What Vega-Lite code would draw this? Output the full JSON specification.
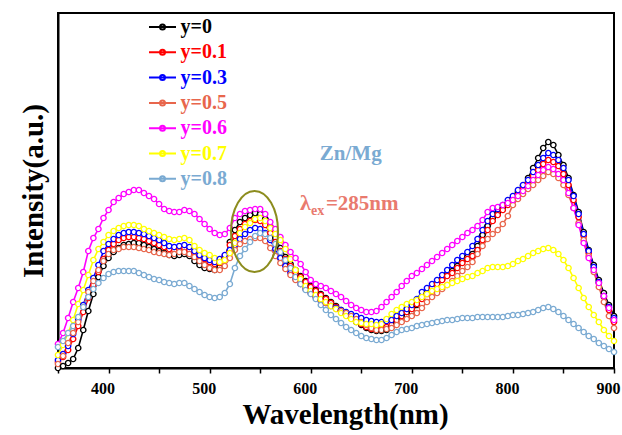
{
"$schema": "https://vega.github.io/schema/vega-lite/v6.json",
"width": 556, "height": 355,
"autosize": {"type": "none"},
"padding": {"left": 58, "top": 13, "right": 8, "bottom": 67},
"background": "white",
"config": {"view": {"stroke": "black", "strokeWidth": 2}, "font": "Liberation Serif"},
"encoding": {
"x": {"field": "w", "type": "quantitative", "scale": {"domain": [350, 900], "nice": false, "zero": false},
"axis": {"values": [350,400,450,500,550,600,650,700,750,800,850,900],
"labelExpr": "datum.value % 100 == 0 && datum.value > 350 ? datum.label : ''",
"grid": false, "tickSize": 5, "tickWidth": 1.5, "tickColor": "black", "domainColor": "black", "domainWidth": 2,
"labelFont": "Liberation Serif", "labelFontWeight": "bold", "labelFontSize": 16, "labelColor": "black",
"labelBaseline": "alphabetic", "labelPadding": 20, "labelOffset": -6, "labelFlush": false, "labelOverlap": false,
"title": "Wavelength(nm)", "titleFont": "Liberation Serif", "titleFontWeight": "bold", "titleFontSize": 29, "titleColor": "black",
"titleBaseline": "alphabetic", "titleY": 55, "titleX": 287, "titleAlign": "center"}},
"y": {"field": "val", "type": "quantitative", "scale": {"domain": [0, 355], "nice": false, "zero": false},
"axis": {"labels": false, "ticks": false, "grid": false, "domainColor": "black", "domainWidth": 2,
"title": "Intensity(a.u.)", "titleFont": "Liberation Serif", "titleFontWeight": "bold", "titleFontSize": 29, "titleColor": "black",
"titleBaseline": "alphabetic", "titleAngle": -90, "titleAlign": "center", "titleX": -16, "titleY": 177.5}}
},
"layer": [
{
"data": {"values": [
{"w":350,"s0":0,"s1":6,"s3":8,"s5":4,"s6":24,"s7":13,"s8":21},
{"w":355,"s0":2,"s1":11,"s3":14,"s5":12,"s6":35,"s7":23,"s8":27},
{"w":360,"s0":5,"s1":18,"s3":22,"s5":25,"s6":50,"s7":35,"s8":35},
{"w":365,"s0":9,"s1":29,"s3":34,"s5":35,"s6":66,"s7":48,"s8":42},
{"w":370,"s0":20,"s1":42,"s3":48,"s5":46,"s6":80,"s7":64,"s8":51},
{"w":375,"s0":38,"s1":56,"s3":63,"s5":61,"s6":96,"s7":78,"s8":61},
{"w":380,"s0":57,"s1":70,"s3":78,"s5":76,"s6":117,"s7":93,"s8":71},
{"w":385,"s0":74,"s1":83,"s3":90,"s5":87,"s6":130,"s7":108,"s8":79},
{"w":390,"s0":91,"s1":96,"s3":103,"s5":98,"s6":139,"s7":119,"s8":85},
{"w":395,"s0":102,"s1":109,"s3":117,"s5":107,"s6":150,"s7":126,"s8":90},
{"w":400,"s0":110,"s1":118,"s3":124,"s5":114,"s6":158,"s7":133,"s8":94},
{"w":405,"s0":116,"s1":124,"s3":129,"s5":118,"s6":166,"s7":137,"s8":96},
{"w":410,"s0":120,"s1":128,"s3":133,"s5":119,"s6":170,"s7":140,"s8":97},
{"w":415,"s0":123,"s1":130,"s3":135,"s5":121,"s6":174,"s7":142,"s8":97},
{"w":420,"s0":124,"s1":131,"s3":136,"s5":121,"s6":176,"s7":143,"s8":97},
{"w":425,"s0":125,"s1":131,"s3":136,"s5":121,"s6":178,"s7":143,"s8":97},
{"w":430,"s0":125,"s1":130,"s3":135,"s5":120,"s6":178,"s7":142,"s8":95},
{"w":435,"s0":123,"s1":129,"s3":134,"s5":119,"s6":175,"s7":139,"s8":93},
{"w":440,"s0":121,"s1":127,"s3":132,"s5":118,"s6":172,"s7":137,"s8":91},
{"w":445,"s0":119,"s1":125,"s3":130,"s5":116,"s6":169,"s7":135,"s8":89},
{"w":450,"s0":117,"s1":123,"s3":128,"s5":115,"s6":164,"s7":133,"s8":88},
{"w":455,"s0":115,"s1":121,"s3":125,"s5":114,"s6":159,"s7":131,"s8":86},
{"w":460,"s0":113,"s1":119,"s3":122,"s5":113,"s6":157,"s7":129,"s8":85},
{"w":465,"s0":112,"s1":118,"s3":121,"s5":114,"s6":156,"s7":128,"s8":84},
{"w":470,"s0":113,"s1":119,"s3":122,"s5":116,"s6":156,"s7":129,"s8":85},
{"w":475,"s0":114,"s1":120,"s3":123,"s5":116,"s6":158,"s7":130,"s8":85},
{"w":480,"s0":112,"s1":118,"s3":121,"s5":114,"s6":157,"s7":128,"s8":82},
{"w":485,"s0":107,"s1":115,"s3":117,"s5":111,"s6":154,"s7":122,"s8":79},
{"w":490,"s0":103,"s1":112,"s3":113,"s5":107,"s6":149,"s7":118,"s8":76},
{"w":495,"s0":100,"s1":109,"s3":110,"s5":103,"s6":144,"s7":115,"s8":73},
{"w":500,"s0":99,"s1":106,"s3":108,"s5":100,"s6":139,"s7":113,"s8":71},
{"w":505,"s0":98,"s1":104,"s3":106,"s5":98,"s6":135,"s7":110,"s8":70},
{"w":510,"s0":101,"s1":105,"s3":109,"s5":98,"s6":133,"s7":106,"s8":71},
{"w":515,"s0":110,"s1":112,"s3":113,"s5":102,"s6":134,"s7":108,"s8":75},
{"w":520,"s0":126,"s1":123,"s3":118,"s5":110,"s6":140,"s7":115,"s8":84},
{"w":525,"s0":138,"s1":132,"s3":123,"s5":118,"s6":150,"s7":125,"s8":100},
{"w":530,"s0":146,"s1":139,"s3":129,"s5":124,"s6":154,"s7":135,"s8":112},
{"w":535,"s0":150,"s1":144,"s3":134,"s5":127,"s6":157,"s7":141,"s8":119},
{"w":540,"s0":153,"s1":147,"s3":138,"s5":129,"s6":158,"s7":145,"s8":126},
{"w":545,"s0":155,"s1":148,"s3":140,"s5":130,"s6":159,"s7":149,"s8":132},
{"w":550,"s0":154,"s1":147,"s3":139,"s5":130,"s6":159,"s7":150,"s8":135},
{"w":555,"s0":149,"s1":143,"s3":135,"s5":127,"s6":154,"s7":147,"s8":134},
{"w":560,"s0":140,"s1":135,"s3":128,"s5":120,"s6":146,"s7":140,"s8":130},
{"w":565,"s0":130,"s1":126,"s3":119,"s5":112,"s6":139,"s7":134,"s8":124},
{"w":570,"s0":120,"s1":117,"s3":110,"s5":105,"s6":131,"s7":128,"s8":116},
{"w":575,"s0":111,"s1":109,"s3":102,"s5":99,"s6":123,"s7":119,"s8":108},
{"w":580,"s0":104,"s1":102,"s3":95,"s5":93,"s6":116,"s7":109,"s8":100},
{"w":585,"s0":98,"s1":96,"s3":89,"s5":88,"s6":110,"s7":98,"s8":91},
{"w":590,"s0":92,"s1":91,"s3":84,"s5":84,"s6":104,"s7":89,"s8":84},
{"w":595,"s0":87,"s1":86,"s3":79,"s5":79,"s6":96,"s7":82,"s8":78},
{"w":600,"s0":82,"s1":81,"s3":75,"s5":75,"s6":88,"s7":77,"s8":74},
{"w":605,"s0":78,"s1":77,"s3":71,"s5":71,"s6":84,"s7":73,"s8":69},
{"w":610,"s0":74,"s1":73,"s3":68,"s5":68,"s6":82,"s7":69,"s8":63},
{"w":615,"s0":70,"s1":69,"s3":65,"s5":65,"s6":80,"s7":66,"s8":58},
{"w":620,"s0":66,"s1":65,"s3":62,"s5":62,"s6":77,"s7":62,"s8":53},
{"w":625,"s0":62,"s1":61,"s3":60,"s5":59,"s6":74,"s7":59,"s8":49},
{"w":630,"s0":58,"s1":57,"s3":58,"s5":57,"s6":71,"s7":55,"s8":45},
{"w":635,"s0":54,"s1":54,"s3":56,"s5":55,"s6":67,"s7":52,"s8":41},
{"w":640,"s0":50,"s1":50,"s3":54,"s5":52,"s6":63,"s7":49,"s8":38},
{"w":645,"s0":46,"s1":47,"s3":52,"s5":49,"s6":60,"s7":46,"s8":35},
{"w":650,"s0":43,"s1":44,"s3":50,"s5":46,"s6":58,"s7":45,"s8":32},
{"w":655,"s0":40,"s1":41,"s3":48,"s5":43,"s6":56,"s7":44,"s8":30},
{"w":660,"s0":38,"s1":39,"s3":47,"s5":40,"s6":56,"s7":44,"s8":29},
{"w":665,"s0":37,"s1":38,"s3":46,"s5":38,"s6":57,"s7":43,"s8":28},
{"w":670,"s0":37,"s1":39,"s3":46,"s5":38,"s6":61,"s7":44,"s8":28},
{"w":675,"s0":38,"s1":41,"s3":47,"s5":39,"s6":66,"s7":49,"s8":30},
{"w":680,"s0":41,"s1":43,"s3":48,"s5":40,"s6":71,"s7":54,"s8":33},
{"w":685,"s0":45,"s1":48,"s3":52,"s5":43,"s6":76,"s7":58,"s8":36},
{"w":690,"s0":49,"s1":52,"s3":55,"s5":46,"s6":82,"s7":61,"s8":38},
{"w":695,"s0":52,"s1":56,"s3":59,"s5":49,"s6":87,"s7":64,"s8":39},
{"w":700,"s0":56,"s1":59,"s3":63,"s5":52,"s6":92,"s7":66,"s8":40},
{"w":705,"s0":63,"s1":64,"s3":69,"s5":55,"s6":95,"s7":68,"s8":42},
{"w":710,"s0":70,"s1":69,"s3":76,"s5":60,"s6":99,"s7":71,"s8":43},
{"w":715,"s0":75,"s1":74,"s3":80,"s5":66,"s6":103,"s7":74,"s8":44},
{"w":720,"s0":80,"s1":80,"s3":84,"s5":71,"s6":107,"s7":77,"s8":45},
{"w":725,"s0":85,"s1":84,"s3":88,"s5":75,"s6":111,"s7":79,"s8":46},
{"w":730,"s0":89,"s1":88,"s3":93,"s5":79,"s6":115,"s7":81,"s8":47},
{"w":735,"s0":93,"s1":92,"s3":98,"s5":83,"s6":119,"s7":83,"s8":48},
{"w":740,"s0":97,"s1":95,"s3":103,"s5":87,"s6":123,"s7":85,"s8":48},
{"w":745,"s0":102,"s1":100,"s3":108,"s5":92,"s6":127,"s7":87,"s8":49},
{"w":750,"s0":107,"s1":105,"s3":112,"s5":97,"s6":131,"s7":89,"s8":50},
{"w":755,"s0":111,"s1":109,"s3":116,"s5":101,"s6":135,"s7":91,"s8":50},
{"w":760,"s0":114,"s1":112,"s3":122,"s5":106,"s6":138,"s7":92,"s8":50},
{"w":765,"s0":122,"s1":118,"s3":129,"s5":114,"s6":142,"s7":95,"s8":51},
{"w":770,"s0":133,"s1":128,"s3":138,"s5":122,"s6":148,"s7":97,"s8":51},
{"w":775,"s0":142,"s1":138,"s3":147,"s5":129,"s6":156,"s7":100,"s8":51},
{"w":780,"s0":150,"s1":147,"s3":154,"s5":134,"s6":160,"s7":101,"s8":51},
{"w":785,"s0":155,"s1":153,"s3":159,"s5":138,"s6":161,"s7":101,"s8":51},
{"w":790,"s0":160,"s1":158,"s3":163,"s5":144,"s6":163,"s7":101,"s8":51},
{"w":795,"s0":165,"s1":163,"s3":168,"s5":152,"s6":165,"s7":102,"s8":52},
{"w":800,"s0":170,"s1":168,"s3":172,"s5":163,"s6":168,"s7":104,"s8":53},
{"w":805,"s0":176,"s1":173,"s3":178,"s5":169,"s6":172,"s7":107,"s8":53},
{"w":810,"s0":182,"s1":179,"s3":183,"s5":174,"s6":177,"s7":109,"s8":54},
{"w":815,"s0":190,"s1":185,"s3":188,"s5":179,"s6":182,"s7":112,"s8":55},
{"w":820,"s0":200,"s1":192,"s3":196,"s5":183,"s6":188,"s7":115,"s8":56},
{"w":825,"s0":210,"s1":198,"s3":203,"s5":188,"s6":193,"s7":117,"s8":58},
{"w":830,"s0":220,"s1":204,"s3":210,"s5":192,"s6":198,"s7":119,"s8":60},
{"w":835,"s0":226,"s1":208,"s3":215,"s5":196,"s6":201,"s7":120,"s8":61},
{"w":840,"s0":223,"s1":206,"s3":213,"s5":194,"s6":199,"s7":118,"s8":59},
{"w":845,"s0":213,"s1":202,"s3":208,"s5":190,"s6":194,"s7":114,"s8":56},
{"w":850,"s0":203,"s1":194,"s3":200,"s5":183,"s6":188,"s7":108,"s8":52},
{"w":855,"s0":190,"s1":183,"s3":188,"s5":173,"s6":175,"s7":100,"s8":48},
{"w":860,"s0":173,"s1":168,"s3":172,"s5":160,"s6":160,"s7":90,"s8":44},
{"w":865,"s0":156,"s1":151,"s3":154,"s5":145,"s6":143,"s7":80,"s8":40},
{"w":870,"s0":136,"s1":132,"s3":134,"s5":128,"s6":125,"s7":70,"s8":36},
{"w":875,"s0":118,"s1":115,"s3":117,"s5":112,"s6":110,"s7":61,"s8":32},
{"w":880,"s0":103,"s1":100,"s3":101,"s5":96,"s6":98,"s7":53,"s8":29},
{"w":885,"s0":88,"s1":85,"s3":86,"s5":81,"s6":85,"s7":46,"s8":25},
{"w":890,"s0":75,"s1":71,"s3":72,"s5":66,"s6":72,"s7":38,"s8":22},
{"w":895,"s0":63,"s1":58,"s3":61,"s5":52,"s6":60,"s7":32,"s8":19},
{"w":900,"s0":52,"s1":46,"s3":50,"s5":40,"s6":48,"s7":27,"s8":16}
]},
"transform": [{"fold": ["s0","s1","s3","s5","s6","s7","s8"], "as": ["series","val"]}],
"layer": [
{"mark": {"type": "line", "strokeWidth": 1.6},
"encoding": {"color": {"field": "series", "type": "nominal",
"scale": {"domain": ["s0","s1","s3","s5","s6","s7","s8"], "range": ["#000000","#ff0000","#0000ff","#e8664c","#ff00ff","#ffff00","#7aaad2"]},
"legend": {"title": null, "orient": "none", "legendX": 93.5, "legendY": 3, "direction": "vertical",
"symbolType": "M-1.35,0L1.35,0M-0.25,0A0.25,0.25 0 1,0 0.25,0A0.25,0.25 0 1,0 -0.25,0",
"symbolSize": 400, "symbolStrokeWidth": 2, "symbolFillColor": "white",
"labelFont": "Liberation Serif", "labelFontWeight": "bold", "labelFontSize": 20, "labelOffset": 7,
"rowPadding": 4.3, "padding": 0,
"labelExpr": "datum.value=='s0'?'y=0':datum.value=='s1'?'y=0.1':datum.value=='s3'?'y=0.3':datum.value=='s5'?'y=0.5':datum.value=='s6'?'y=0.6':datum.value=='s7'?'y=0.7':'y=0.8'",
"encode": {"labels": {"update": {"fill": {"scale": "color", "field": "value"}}}}}}}},
{"mark": {"type": "point", "filled": true, "fill": "white", "size": 28, "strokeWidth": 1.4, "opacity": 1},
"encoding": {"stroke": {"field": "series", "type": "nominal",
"scale": {"domain": ["s0","s1","s3","s5","s6","s7","s8"], "range": ["#000000","#ff0000","#0000ff","#e8664c","#ff00ff","#ffff00","#7aaad2"]},
"legend": null}}}
]
},
{
"data": {"values": [{"w": 544.4, "val": 136.5}]},
"mark": {"type": "point", "shape": "M-0.58,0A0.58,1 0 0,1 0.58,0A0.58,1 0 0,1 -0.58,0", "size": 6561, "filled": false, "stroke": "#8c8c1e", "strokeWidth": 2, "opacity": 1}
},
{
"data": {"values": [{"w": 609, "val": 208, "t": "Zn/Mg"}]},
"mark": {"type": "text", "align": "left", "baseline": "alphabetic", "font": "Liberation Serif", "fontWeight": "bold", "fontSize": 21, "color": "#7aaad2"},
"encoding": {"text": {"field": "t"}}
},
{
"data": {"values": [{"w": 589.4, "val": 158, "t": "λ"}]},
"mark": {"type": "text", "align": "left", "baseline": "alphabetic", "font": "Liberation Serif", "fontWeight": "bold", "fontSize": 22, "color": "#e97a6e"},
"encoding": {"text": {"field": "t"}}
},
{
"data": {"values": [{"w": 600.3, "val": 153, "t": "ex"}]},
"mark": {"type": "text", "align": "left", "baseline": "alphabetic", "font": "Liberation Serif", "fontWeight": "bold", "fontSize": 14, "color": "#e97a6e"},
"encoding": {"text": {"field": "t"}}
},
{
"data": {"values": [{"w": 615, "val": 158, "t": "=285nm"}]},
"mark": {"type": "text", "align": "left", "baseline": "alphabetic", "font": "Liberation Serif", "fontWeight": "bold", "fontSize": 21, "color": "#e97a6e"},
"encoding": {"text": {"field": "t"}}
}
]
}
